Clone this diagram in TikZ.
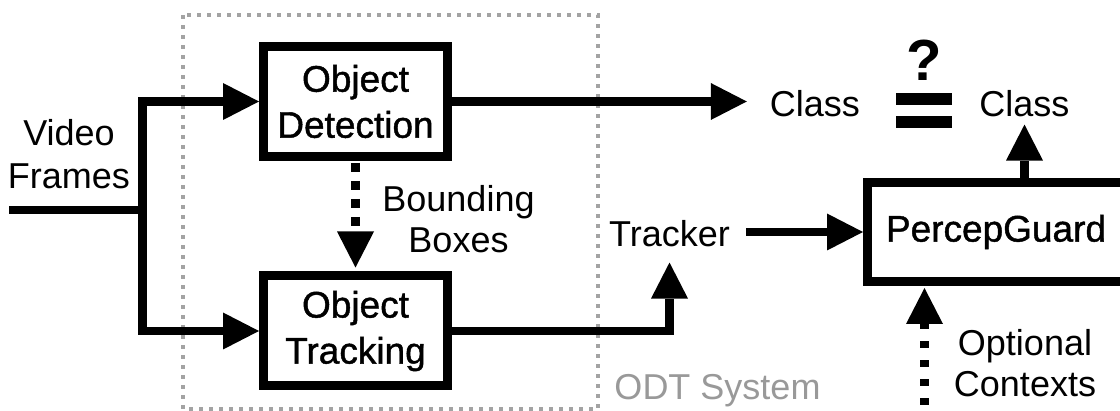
\documentclass[tikz,border=0pt]{standalone}
\usepackage{fontspec}
\setmainfont{Liberation Sans}
\newfontfamily\boxfont{Liberation Sans}[FakeBold=1.2]
\usetikzlibrary{arrows.meta}
\definecolor{framegray}{HTML}{A3A3A3}
\definecolor{labelgray}{HTML}{999999}

\begin{document}
\begin{tikzpicture}[x=1pt,y=-1pt,
  line join=miter,
  lbl/.style={inner sep=0pt, align=center, font=\fontsize{36}{40}\selectfont},
  blk/.style={draw, line width=9pt, inner sep=0pt, align=center,
    minimum width=184pt, minimum height=110pt,
    font=\boxfont\fontsize{37}{46}\selectfont},
  flow/.style={line width=8.5pt,
    -{Triangle[length=36pt,width=37pt,line width=0pt]}},
  dflow/.style={flow, dash pattern=on 9pt off 9pt, dash phase=16pt},
  cflow/.style={flow, dash pattern=on 7pt off 12pt, dash phase=13pt},
  odtframe/.style={draw=framegray, line width=4pt, dash pattern=on 4pt off 6pt},
  eqbar/.style={fill=black}
]
\useasboundingbox (0,0) rectangle (1120,411);

% ODT system frame
\draw[odtframe] (183,15) rectangle (598,409);
\node[lbl, text=labelgray, anchor=base] (odt) at (717.5,400) {ODT System};

% processing blocks
\node[blk] (det) at (355.5,101.5) {Object\\Detection};
\node[blk] (trk) at (355.5,331) {Object\\Tracking};
\node[blk, minimum width=257pt, minimum height=99pt] (pg) at (996,232) {PercepGuard};

% text labels
\node[lbl, anchor=north, font=\fontsize{36}{43}\selectfont] (vf) at (69,119) {Video\\Frames};
\node[lbl, anchor=north, font=\fontsize{36}{41}\selectfont] (bb) at (458.5,185) {Bounding\\Boxes};
\node[lbl, anchor=base] (clsL) at (815,116.5) {Class};
\node[lbl, anchor=base] (clsR) at (1024.5,116.5) {Class};
\node[lbl, anchor=base] (trkr) at (669.5,247) {Tracker};
\node[lbl, anchor=north, font=\fontsize{36}{41}\selectfont] (ctx) at (1025,329) {Optional\\Contexts};
\node[inner sep=0pt, anchor=base, font=\bfseries\fontsize{58}{60}\selectfont] (q) at (924.5,81) {?};

% equality sign
\fill[eqbar] (896,93) rectangle (952,105);
\fill[eqbar] (896,116) rectangle (952,128);

% input split
\coordinate (vin) at (9,210);
\coordinate (split) at (142.5,210);
\draw[line width=8.5pt] (vin) -- (split);
\draw[flow] (split) |- (det.west);
\draw[flow] (split) |- (trk.west);

% detection output and bounding boxes
\draw[flow, shorten >=23pt] (det.east) -- (det.east -| clsL.west);
\draw[dflow, shorten >=4pt] (det.south) -- (trk.north);

% tracking output to PercepGuard
\draw[flow, shorten >=15pt] (trk.east) -| (trkr.south);
\draw[flow, shorten <=16pt] (pg.west -| trkr.east) -- (pg.west);
\draw[flow, shorten >=7.5pt] (pg.north -| clsR.south) -- (clsR.south);

% optional contexts
\coordinate (ctxin) at (924.5,411);
\draw[cflow, shorten >=2pt] (ctxin) -- (ctxin |- pg.south);
\end{tikzpicture}
\end{document}
